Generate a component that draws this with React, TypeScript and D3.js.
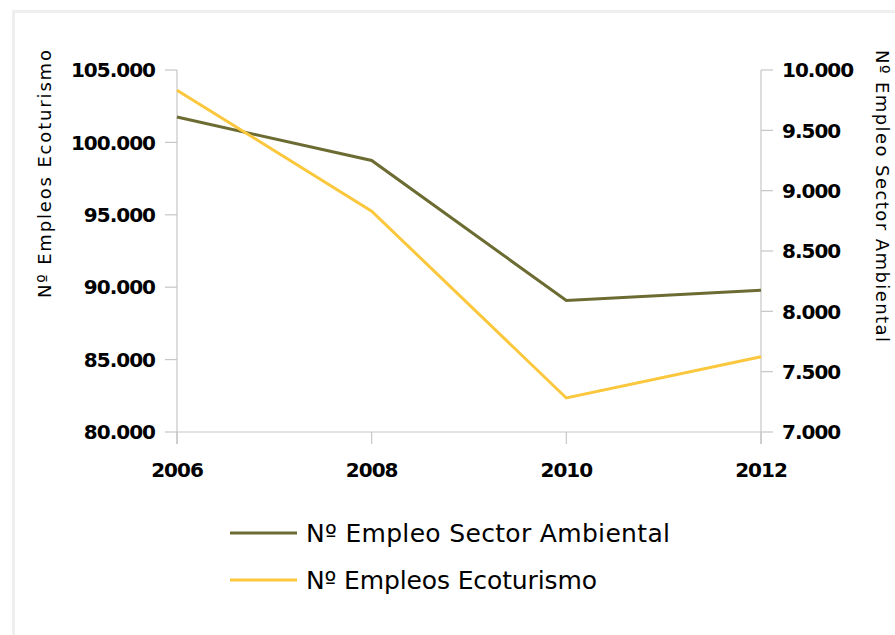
import React from "react";
import * as d3 from "d3";

const years = [2006, 2008, 2010, 2012];
const ecoturismo = [103600, 95250, 82350, 85200];
const ambiental = [9610, 9250, 8090, 8175];
const leftTicks = [80000, 85000, 90000, 95000, 100000, 105000];
const rightTicks = [7000, 7500, 8000, 8500, 9000, 9500, 10000];
const seriesNames = ["Nº Empleo Sector Ambiental", "Nº Empleos Ecoturismo"];
const seriesColors = ["#6b6b32", "#fbc73d"];
const legendWidths = [364, 291];

const W = 895, H = 635;
const x0 = 177, x1 = 761, yTop = 70, yBot = 432;
const font = "'DejaVu Sans', sans-serif";

export default function App() {
  const x = d3.scalePoint<number>().domain(years).range([x0, x1]);
  const yL = d3.scaleLinear().domain([80000, 105000]).range([yBot, yTop]);
  const yR = d3.scaleLinear().domain([7000, 10000]).range([yBot, yTop]);
  const fmt = (v: number) => d3.format(",")(v).replace(/,/g, ".");
  const lineL = d3.line<number>().x((_, i) => x(years[i])!).y((d) => yL(d));
  const lineR = d3.line<number>().x((_, i) => x(years[i])!).y((d) => yR(d));
  const axisColor = "#c6c6c6";
  const tickStyle = { fontFamily: font, fontWeight: "bold" as const, fontSize: 20, fill: "#000", letterSpacing: -1 };
  return (
    <svg width={W} height={H} style={{ position: "absolute", left: 0, top: 0 }}>
      <rect x={0} y={0} width={W} height={H} fill="#fff" />
      <rect x={13.5} y={11.5} width={W + 20} height={H + 20} fill="none" stroke="#eef0ef" strokeWidth={3} />
      <line x1={x0} x2={x0} y1={yTop} y2={yBot + 12} stroke={axisColor} strokeWidth={1.2} />
      <line x1={x1} x2={x1} y1={yTop} y2={yBot + 12} stroke={axisColor} strokeWidth={1.2} />
      <line x1={x0} x2={x1} y1={yBot} y2={yBot} stroke={axisColor} strokeWidth={1.2} />
      {leftTicks.map((t) => (
        <g key={"l" + t}>
          <line x1={x0 - 12} x2={x0} y1={yL(t)} y2={yL(t)} stroke={axisColor} strokeWidth={1.2} />
          <text x={x0 - 22} y={yL(t)} dy="0.36em" textAnchor="end" {...tickStyle}>
            {fmt(t)}
          </text>
        </g>
      ))}
      {rightTicks.map((t) => (
        <g key={"r" + t}>
          <line x1={x1} x2={x1 + 12} y1={yR(t)} y2={yR(t)} stroke={axisColor} strokeWidth={1.2} />
          <text x={x1 + 21} y={yR(t)} dy="0.36em" textAnchor="start" {...tickStyle}>
            {fmt(t)}
          </text>
        </g>
      ))}
      {years.map((yr) => (
        <g key={"x" + yr}>
          <line x1={x(yr)!} x2={x(yr)!} y1={yBot} y2={yBot + 12} stroke={axisColor} strokeWidth={1.2} />
          <text x={x(yr)!} y={470} dy="0.36em" textAnchor="middle" {...tickStyle}>
            {yr}
          </text>
        </g>
      ))}
      <text transform={`translate(45,174) rotate(-90)`} textAnchor="middle" dy="0.35em" fontFamily={font} fontSize={18} fill="#000" textLength={248} lengthAdjust="spacing">
        Nº Empleos Ecoturismo
      </text>
      <text transform={`translate(882,196) rotate(90)`} textAnchor="middle" dy="0.35em" fontFamily={font} fontSize={18} fill="#000" textLength={292} lengthAdjust="spacing">
        Nº Empleo Sector Ambiental
      </text>
      <path d={lineR(ambiental)!} fill="none" stroke={seriesColors[0]} strokeWidth={3} />
      <path d={lineL(ecoturismo)!} fill="none" stroke={seriesColors[1]} strokeWidth={3} />
      {seriesNames.map((n, i) => (
        <g key={n}>
          <line x1={230} x2={297} y1={533 + i * 47} y2={533 + i * 47} stroke={seriesColors[i]} strokeWidth={3} />
          <text x={306} y={533 + i * 47} dy="0.35em" fontFamily={font} fontSize={25} fill="#000" textLength={legendWidths[i]} lengthAdjust="spacing">
            {n}
          </text>
        </g>
      ))}
    </svg>
  );
}
